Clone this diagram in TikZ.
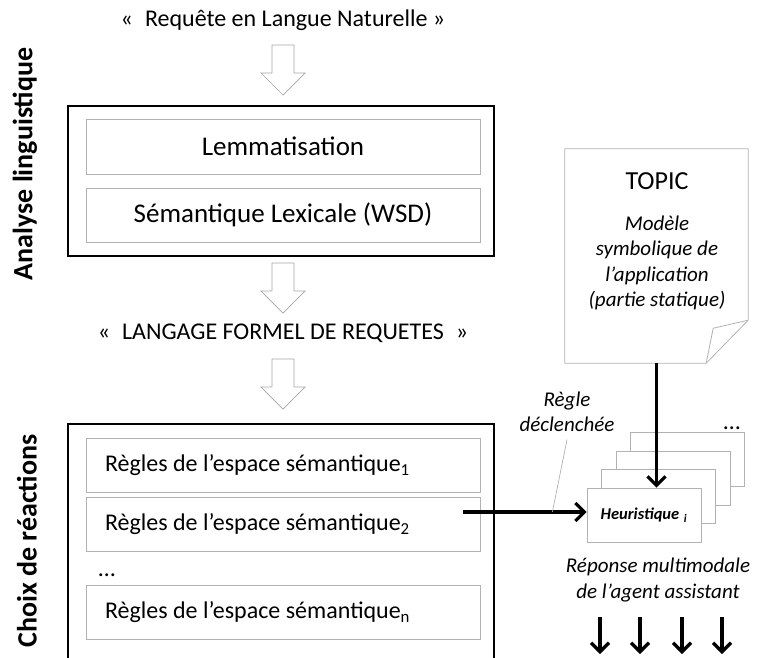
\documentclass[tikz,border=0pt]{standalone}
\usepackage{fontspec}
\setmainfont{Carlito}
\usetikzlibrary{positioning,arrows.meta,calc}

\tikzset{
    hollowline/.style={draw=gray!70, line width=0.7pt, fill=white},
    hollowdown/.pic={\path[hollowline] (-11,0) -- (11,0) -- (11,28) -- (22,28) -- (0,50) -- (-22,28) -- (-11,28) -- cycle;}
}

\begin{document}
\begin{tikzpicture}[
    x=1pt, y=-1pt,
    font=\fontsize{24}{29}\selectfont,
    outerbox/.style={draw, line width=1.6pt, minimum width=426pt},
    stepbox/.style={draw=gray!60, line width=0.8pt, minimum width=394pt, minimum height=54pt, inner sep=0pt},
    rulebox/.style={stepbox, text width=356pt, inner xsep=19pt, align=flush left, font=\fontsize{24}{29}\selectfont},
    heurbox/.style={draw=gray!60, line width=0.8pt, fill=white, minimum width=114pt, minimum height=54pt, inner sep=0pt},
    sidelabel/.style={rotate=90, font=\fontsize{28}{32}\selectfont\bfseries},
    note/.style={font=\fontsize{21}{25.5}\selectfont\itshape, align=center},
    thickarr/.style={line width=3.2pt, -{Straight Barb[length=9pt,width=18pt,line width=3.2pt]}}
]
\clip (0,0) rectangle (758,657);

% ---- analyse linguistique ----
\node (reqnl) at (283,20) {«\enspace Requête en Langue Naturelle »};
\pic at (283,45) {hollowdown};
\node[outerbox, minimum height=150pt] (analyse) at (281,181) {};
\node[stepbox, minimum height=55pt, font=\fontsize{27}{32}\selectfont] (lemma) at (283,146.5) {Lemmatisation};
\node[stepbox, font=\fontsize{27}{32}\selectfont] (wsd) at (283,215) {Sémantique Lexicale (WSD)};
\pic at (283,263) {hollowdown};
\node (lfr) at (283,333) {«\enspace LANGAGE FORMEL DE REQUETES\enspace»};
\pic at (283,359) {hollowdown};
\node[sidelabel] (labanalyse) at (25,164) {Analyse linguistique};

% ---- choix de reactions (box runs off the page bottom) ----
\node[outerbox, minimum height=260pt, anchor=north] (choix) at (281,423) {};
\node[rulebox] (regle1) at (283,465) {Règles de l’espace sémantique\textsubscript{1}};
\node[rulebox] (regle2) at (283,524) {Règles de l’espace sémantique\textsubscript{2}};
\node (rdots) at (107,575) {…};
\node[rulebox] (reglen) at (283,612.5) {Règles de l’espace sémantique\textsubscript{n}};
\node[sidelabel] (labchoix) at (27,541) {Choix de réactions};

% ---- TOPIC document ----
\node[minimum width=183pt, minimum height=214pt, inner sep=0pt] (topic) at (656.5,256) {};
\draw[draw=gray!60, line width=0.8pt] (topic.north west) -- (topic.north east) -- ([yshift=43pt]topic.south east)
    -- ([xshift=-42pt]topic.south east) -- (topic.south west) -- cycle;
\draw[draw=gray!60, line width=0.8pt] ([yshift=43pt]topic.south east) -- ([xshift=-35pt,yshift=35pt]topic.south east)
    -- ([xshift=-42pt]topic.south east);
\node[align=center, font=\fontsize{26}{30}\selectfont] (topictitle) at (657,181) {TOPIC};
\node[note] (topictxt) at (657,263) {Modèle\\symbolique de\\l’application\\(partie statique)};

% ---- heuristiques ----
\node[heurbox] (heur3) at (687.5,459.5) {};
\node[heurbox] (heur2) at (673,478) {};
\node[heurbox] (heur1) at (658.5,496.5) {};
\node[heurbox, font=\fontsize{16.5}{19}\selectfont\bfseries\itshape] (heur) at (644,515) {Heuristique\,\textsubscript{\,i}};
\node (hdots) at (732,428) {…};

\draw[thickarr] (topic.south) -- (topic.south |- heur.north);

\coordinate (trig) at ([xshift=-17pt,yshift=12pt]regle2.east);
\coordinate (ldend) at ([xshift=89pt]trig);
\draw[thickarr] (trig) -- (trig -| heur.west);
\node[note] (declenche) at (567,412) {Règle\\déclenchée};
\draw[gray!70, line width=0.6pt] ([yshift=-4pt]declenche.south) -- (ldend);

% ---- sorties ----
\node[note] (reponse) at (658,580) {Réponse multimodale\\de l’agent assistant};
\foreach \x [count=\i] in {600,640,682,722} {
    \coordinate (out\i) at (\x,654);
    \draw[thickarr] (out\i |- 617,617) -- (out\i);
}
\end{tikzpicture}
\end{document}
